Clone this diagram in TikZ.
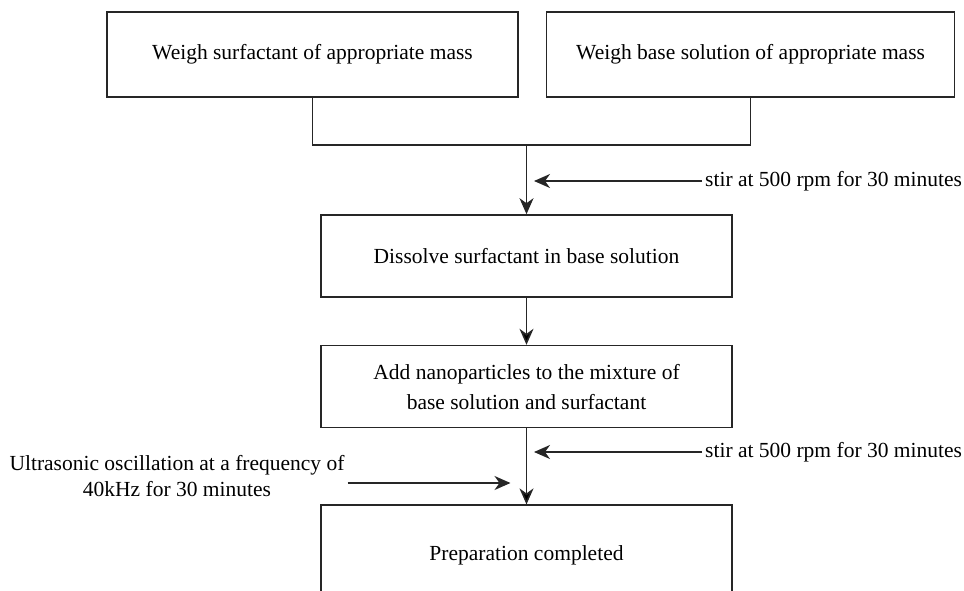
\documentclass[tikz,border=0pt]{standalone}
\usepackage{fontspec}
\setmainfont{Liberation Serif}
\usetikzlibrary{arrows.meta,positioning,calc}
\tikzset{main base/.style={draw=black!85,line width=1.6pt,text centered}, }
\tikzset{main node/.style={rectangle,main base,minimum width=411pt,minimum height=85pt}, }
\tikzset{main node2/.style={main node,minimum height=82pt,align=center}, }
\tikzset{linea/.style={-{Stealth[length=16pt,width=14pt,inset=5pt]},draw=black!85,line width=1.6pt}}
\tikzset{nota/.style={inner sep=3pt,align=center}, }

\begin{document}
\begin{tikzpicture}[font=\fontsize{21.5}{30}\selectfont]
  \useasboundingbox (0,0) rectangle (964pt,-590pt);
    \node[main node] (1) at (312.5pt,-54.5pt) {Weigh surfactant of appropriate mass};
    \node[main node,minimum width=408pt] (2) [right =27pt of 1] {Weigh base solution of appropriate mass};
    \node[main node2] (3) at (526.5pt,-256pt) {Dissolve surfactant in base solution};
    \node[main node2] (4) [below =47pt of 3] {Add nanoparticles to the mixture of\\base solution and surfactant};
    \node[main node2,minimum height=100pt] (5) [below =76pt of 4] {Preparation completed};
    \node[nota,anchor=west] (6) at (702pt,-181pt) {stir at 500 rpm for 30 minutes};
    \node[nota,anchor=west] (7) at (702pt,-452pt) {stir at 500 rpm for 30 minutes};
    \node[nota,font=\fontsize{21.5}{26}\selectfont] (8) at (177pt,-476pt) {Ultrasonic oscillation at a frequency of\\40kHz for 30 minutes};
    % joint of the two weighing steps
    \draw[main base] (1.south) -- ++(0,-47pt) coordinate (g) -| (2.south);
    \draw[linea] (3.north |- g) -- (3.north);
    \coordinate (t1) at ($(3.north)+(7.5pt,0)$);
    \coordinate (t2) at ($(4.south)+(7.5pt,0)$);
    \coordinate (t3) at ($(4.south)+(-16pt,0)$);
    \coordinate (u) at (0,-483pt);
    \foreach \x /\y in {3/4,4/5}
      \path[linea] (\x) edge node {} (\y);
    \draw[linea] (6.west) -- (t1 |- 6.west);
    \draw[linea] (7.west) -- (t2 |- 7.west);
    \draw[linea] (8.east |- u) -- (t3 |- u);
\end{tikzpicture}
\end{document}
